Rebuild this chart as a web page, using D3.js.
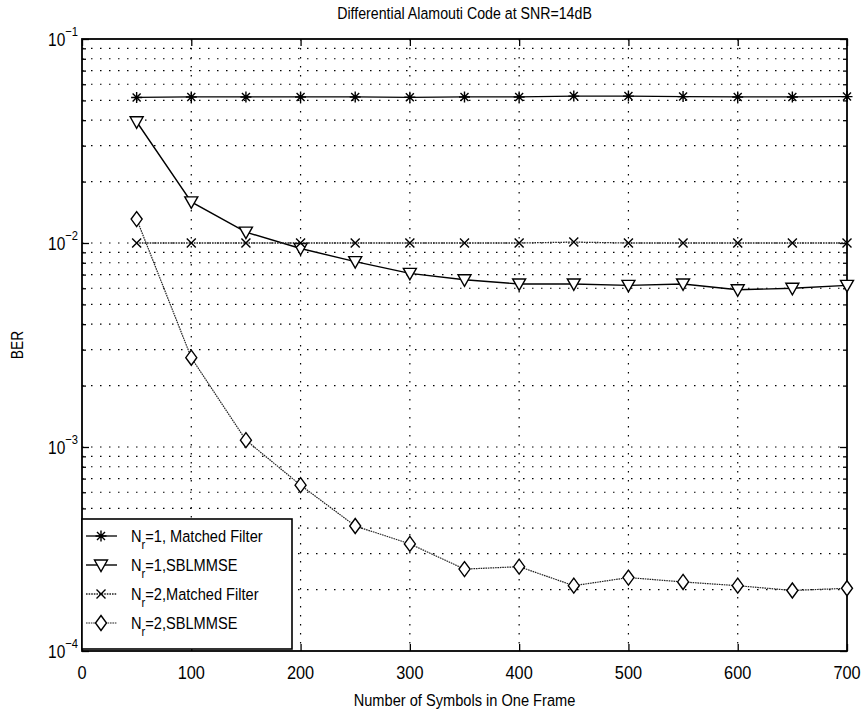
<!DOCTYPE html>
<html><head><meta charset="utf-8">
<script src="https://cdn.jsdelivr.net/npm/d3@7"></script>
<style>
body{margin:0;background:#fff;}
text{font-family:"Liberation Sans",Arial,Helvetica,sans-serif;fill:#000;}
</style></head><body>
<svg id="chart" width="866" height="715"></svg>
<script>
// Frame lengths (symbols per frame) and measured bit error rates
const frameSizes = [50,100,150,200,250,300,350,400,450,500,550,600,650,700];
const berNr1Matched = [0.0517,0.052,0.052,0.052,0.052,0.0518,0.052,0.052,0.0525,0.0525,0.0522,0.052,0.052,0.0522];
const berNr1Sbl     = [0.0393,0.0159,0.0113,0.0094,0.0081,0.0071,0.0066,0.0063,0.0063,0.0062,0.0063,0.0059,0.0060,0.0062];
const berNr2Matched = [0.0100,0.0100,0.0100,0.0100,0.0100,0.0100,0.0100,0.0100,0.0101,0.0100,0.0100,0.0100,0.0100,0.0100];
const berNr2Sbl     = [0.0131,0.00274,0.00108,0.00065,0.00041,0.000335,0.000252,0.000259,0.000209,0.000229,0.000218,0.000209,0.000198,0.000203];

const xTickValues = [0,100,200,300,400,500,600,700];
const yDecadeExps = [-4,-3,-2,-1];
const legendNr = ["1","1","2","2"];
const legendRest = [", Matched Filter",",SBLMMSE",",Matched Filter",",SBLMMSE"];

const titleText = "Differential Alamouti Code at SNR=14dB";
const xLabelText = "Number of Symbols in One Frame";
const yLabelText = "BER";

const svg = d3.select("#chart");
const plot = {left:82, top:39, right:847, bottom:651};
const sx = 0.86; // narrow glyph look

const x = d3.scaleLinear().domain([0,700]).range([plot.left, plot.right]);
const y = d3.scaleLog().domain([1e-4,1e-1]).range([plot.bottom, plot.top]);

function txt(g, px, py, anchor, size, s){
  return g.append("text")
    .attr("transform", `translate(${px},${py}) scale(${sx},1)`)
    .attr("text-anchor", anchor)
    .attr("font-size", size)
    .text(s);
}

// grid values: every 1..9 x decade inside the domain
const yGrid = [];
yDecadeExps.slice(0,3).forEach(e => { for(let k=1;k<=9;k++){ yGrid.push(k*Math.pow(10,e)); } });

const grid = svg.append("g");
grid.selectAll("line.h").data(yGrid.filter(v => v > 1.01e-4)).enter().append("line")
  .attr("x1", plot.left).attr("x2", plot.right)
  .attr("y1", d => y(d)).attr("y2", d => y(d))
  .attr("stroke","#000").attr("stroke-width",1.2).attr("stroke-dasharray","1.5,7.5");
grid.selectAll("line.v").data(xTickValues.slice(1,-1)).enter().append("line")
  .attr("x1", d => x(d)).attr("x2", d => x(d))
  .attr("y1", plot.top).attr("y2", plot.bottom)
  .attr("stroke","#000").attr("stroke-width",1.2).attr("stroke-dasharray","1.5,7.5");

// axes box
svg.append("rect").attr("x",plot.left).attr("y",plot.top)
  .attr("width",plot.right-plot.left).attr("height",plot.bottom-plot.top)
  .attr("fill","none").attr("stroke","#000").attr("stroke-width",1.8);

// ticks (inward, both sides)
const xAxisB = d3.axisBottom(x).tickValues(xTickValues).tickSize(-7).tickFormat("");
const xAxisT = d3.axisTop(x).tickValues(xTickValues).tickSize(-7).tickFormat("");
svg.append("g").attr("transform",`translate(0,${plot.bottom})`).call(xAxisB).call(g=>g.select(".domain").remove());
svg.append("g").attr("transform",`translate(0,${plot.top})`).call(xAxisT).call(g=>g.select(".domain").remove());
const yMajor = yDecadeExps.map(e => Math.pow(10,e));
const yMinor = yGrid.filter(v => !yMajor.some(m => Math.abs(v-m) < m*1e-6));
[[d3.axisLeft, plot.left],[d3.axisRight, plot.right]].forEach(([ax,pos]) => {
  svg.append("g").attr("transform",`translate(${pos},0)`)
    .call(ax(y).tickValues(yMajor).tickSize(-7).tickFormat(""))
    .call(g=>g.select(".domain").remove());
  svg.append("g").attr("transform",`translate(${pos},0)`)
    .call(ax(y).tickValues(yMinor).tickSize(-4).tickFormat(""))
    .call(g=>g.select(".domain").remove());
});
svg.selectAll(".tick line").attr("stroke","#000").attr("stroke-width",1.3);

// tick labels
xTickValues.forEach(v => txt(svg, x(v), plot.bottom+28, "middle", 19, String(v)));
yDecadeExps.forEach(e => {
  const t = svg.append("text")
    .attr("transform", `translate(${plot.left-4},${y(Math.pow(10,e))+7}) scale(${sx},1)`)
    .attr("text-anchor","end").attr("font-size",18);
  t.append("tspan").text("10");
  t.append("tspan").attr("dy",-10).attr("font-size",13).text("\u2212"+Math.abs(e));
});

// titles
txt(svg, (plot.left+plot.right)/2, 19, "middle", 16.5, titleText);
txt(svg, (plot.left+plot.right)/2, 706, "middle", 17, xLabelText);
svg.append("text").attr("transform",`translate(23,${(plot.top+plot.bottom)/2}) rotate(-90) scale(${sx},1)`)
  .attr("text-anchor","middle").attr("font-size",16).text(yLabelText);

// markers
const markers = {
  star: "M-5.5,0H5.5M0,-5.5V5.5M-4,-4L4,4M-4,4L4,-4",
  tri: "M-6.5,-5L6.5,-5L0,6.5Z",
  cross: "M-4.5,-4.5L4.5,4.5M-4.5,4.5L4.5,-4.5",
  diamond: "M0,-7.5L5.5,0L0,7.5L-5.5,0Z"
};
const series = [
  {vals: berNr1Matched, marker:"star", dash:null, width:1.3, color:"#000"},
  {vals: berNr1Sbl, marker:"tri", dash:null, width:1.4, color:"#000"},
  {vals: berNr2Matched, marker:"cross", dash:"1.6,1", width:1.3, color:"#222"},
  {vals: berNr2Sbl, marker:"diamond", dash:"1.6,0.8", width:1.2, color:"#222"}
];
const line = d3.line().x(d => x(d[0])).y(d => y(d[1]));
series.forEach(s => {
  const pts = frameSizes.map((f,i) => [f, s.vals[i]]);
  svg.append("path").attr("d", line(pts)).attr("fill","none")
    .attr("stroke", s.color).attr("stroke-width", s.width)
    .attr("stroke-dasharray", s.dash);
  svg.append("g").selectAll("path").data(pts).enter().append("path")
    .attr("transform", d => `translate(${x(d[0])},${y(d[1])})`)
    .attr("d", markers[s.marker])
    .attr("fill", (s.marker==="tri"||s.marker==="diamond") ? "#fff" : "none")
    .attr("stroke","#000").attr("stroke-width",1.4);
});

// legend
const lg = svg.append("g");
lg.append("rect").attr("x",plot.left).attr("y",519).attr("width",210).attr("height",130)
  .attr("fill","#fff").attr("stroke","#000").attr("stroke-width",1.6);
series.forEach((s,i) => {
  const ly = 536 + i*29;
  lg.append("line").attr("x1",86).attr("x2",117).attr("y1",ly).attr("y2",ly)
    .attr("stroke",s.color).attr("stroke-width",s.width).attr("stroke-dasharray",s.dash);
  lg.append("path").attr("transform",`translate(101,${ly})`).attr("d",markers[s.marker])
    .attr("fill",(s.marker==="tri"||s.marker==="diamond") ? "#fff" : "none")
    .attr("stroke","#000").attr("stroke-width",1.4);
  const t = lg.append("text")
    .attr("transform",`translate(131,${ly+6}) scale(${sx},1)`)
    .attr("font-size",17);
  t.append("tspan").text("N");
  t.append("tspan").attr("dy",7).attr("font-size",13).text("r");
  t.append("tspan").attr("dy",-7).text("=" + legendNr[i] + legendRest[i]);
});
</script>
</body></html>
